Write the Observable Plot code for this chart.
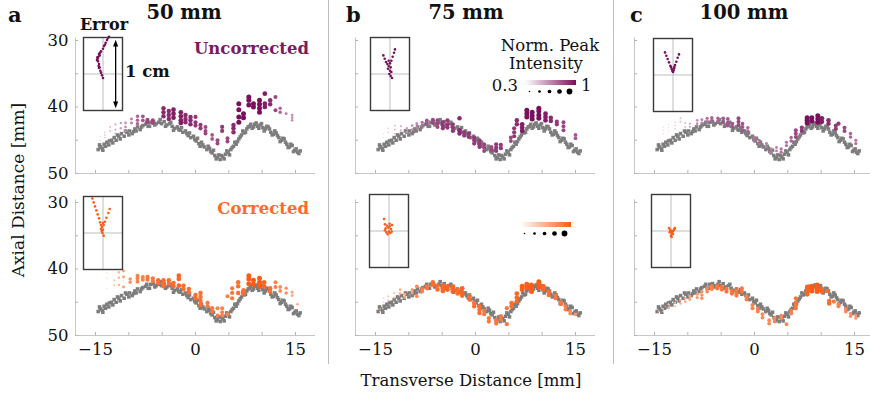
<!DOCTYPE html>
<html>
<head>
<meta charset="utf-8">
<script src="https://cdn.jsdelivr.net/npm/d3@7"></script>
<script src="https://cdn.jsdelivr.net/npm/@observablehq/plot@0.6"></script>
<style>
  body { margin:0; background:#fff; overflow:hidden; }
  #root { position:relative; width:870px; height:400px; overflow:hidden; font-family:"DejaVu Serif", serif; color:#111; }
  .t { position:absolute; white-space:nowrap; line-height:1; }
  .sep { position:absolute; width:1px; background:#bdbdbd; }
</style>
</head>
<body>
<div id="root"></div>
<script>
// ---------------- data ----------------
const xTicks = [-15, -10, -5, 0, 5, 10, 15];
const xTickLabels = [-15, 0, 15];
const yTicks = [30, 35, 40, 45, 50];
const yTickLabels = [30, 40, 50];
const legendLevels = [0.3, 0.475, 0.65, 0.825, 1];

// ground-truth wire positions [transverse mm, axial mm], two frames
const truthA = [
  [-14.6,46.4],[-14.3,46.0],[-14.0,46.2],[-13.7,45.6],[-13.3,45.3],[-13.0,45.7],[-12.6,45.0],[-12.2,44.6],
  [-11.9,45.0],[-11.5,44.4],[-11.1,44.0],[-10.7,44.4],[-10.3,43.8],[-9.9,43.6],[-9.5,44.0],[-9.1,43.3],
  [-8.7,43.0],[-8.3,43.4],[-7.9,42.8],[-7.5,42.6],[-7.1,42.9],[-6.7,42.3],[-6.3,42.2],[-5.9,42.5],
  [-5.5,42.3],[-5.1,42.5],[-4.7,42.2],[-4.3,42.7],[-3.9,42.5],[-3.5,42.9],[-3.1,43.2],[-2.7,43.0],
  [-2.3,43.5],[-1.9,43.8],[-1.5,43.6],[-1.1,44.3],[-0.7,44.6],[-0.3,44.4],[0.1,45.1],[0.5,45.5],
  [0.9,45.3],[1.3,46.0],[1.7,46.4],[2.1,46.2],[2.5,46.9],[2.9,47.3],[3.3,47.6],[3.7,47.9],
  [4.1,47.5],[4.5,47.1],[4.9,46.8],[5.3,46.4],[5.7,45.9],[6.1,45.6],[6.5,44.8],[6.9,44.2],
  [7.3,43.9],[7.7,43.3],[8.1,42.9],[8.5,43.2],[8.9,42.6],[9.3,42.9],[9.7,42.7],[10.1,43.1],
  [10.5,43.3],[10.9,43.0],[11.3,43.8],[11.7,44.1],[12.1,43.9],[12.5,44.6],[12.9,45.0],[13.3,44.8],
  [13.7,45.6],[14.1,46.0],[14.5,45.8],[14.9,46.5],[15.3,46.8],[15.7,46.6]
];
const truthB = [
  [-14.4,45.7],[-13.9,46.5],[-13.5,45.9],[-12.9,45.1],[-12.4,45.4],[-11.7,44.2],[-11.3,44.8],[-10.5,43.6],
  [-10.0,44.2],[-9.3,43.7],[-8.9,43.6],[-8.1,43.0],[-7.3,42.3],[-6.9,42.9],[-6.1,42.7],[-5.3,41.9],
  [-4.5,42.9],[-3.7,42.3],[-3.3,43.5],[-2.5,43.4],[-2.1,43.1],[-1.3,44.0],[-0.9,43.9],[-0.1,44.9],
  [0.3,44.7],[0.7,45.9],[1.1,45.7],[1.9,45.9],[2.3,46.7],[2.7,46.5],[3.1,47.8],[3.5,47.2],
  [3.9,47.3],[4.3,47.8],[4.7,46.6],[5.1,47.2],[5.5,46.1],[5.9,45.3],[6.3,45.2],[6.7,44.5],
  [7.1,43.6],[7.5,43.8],[7.9,43.0],[8.3,42.6],[8.7,43.0],[9.1,42.4],[9.5,43.2],[9.9,42.5],
  [10.3,43.6],[10.7,42.9],[11.1,43.3],[11.5,44.2],[11.9,43.6],[12.3,44.3],[12.7,45.2],[13.1,44.7],
  [13.5,45.3],[13.9,46.1],[14.3,45.6],[14.7,46.7],[15.1,46.3],[15.5,47.0]
];

// estimates: [transverse mm, normalised peak intensity, [axial mm ...]]
const est50U = [
  [-14.3,0.3,[45.0,44.5]],[-13.6,0.35,[44.2,43.8,44.6]],[-12.8,0.4,[43.6,43.0]],[-12.0,0.45,[42.6,43.4,44.0]],
  [-11.2,0.5,[42.4,43.2]],[-10.5,0.55,[42.4,43.0,43.6]],[-9.6,0.6,[41.8,42.4]],[-8.7,0.7,[41.4,42.0,42.5]],
  [-7.9,0.75,[41.4,42.0]],[-7.2,0.8,[41.9,42.3]],[-6.4,0.8,[42.0,42.4]],[-4.8,0.9,[40.2,40.8,41.4]],
  [-4.0,0.9,[40.6,41.2,41.8]],[-3.3,0.95,[40.4,41.0,41.6]],[-2.2,0.95,[40.8,41.4,42.0,42.4]],[-1.5,0.9,[41.2,41.8,42.3]],
  [-0.75,0.9,[41.5,42.0,42.6]],[0.0,0.85,[41.5,42.3,42.8]],[0.75,0.85,[42.7,43.2]],[1.5,0.8,[43.0,43.6,44.0]],
  [2.5,0.75,[44.2,44.8]],[3.3,0.8,[45.0,45.5]],[4.0,0.85,[43.0,43.6]],[4.8,0.8,[44.7,45.2]],
  [5.7,0.9,[42.7,43.2,43.8]],[6.5,1.0,[39.5,40.4,41.5,42.3]],[7.2,1.0,[41.0,41.6]],[8.0,1.0,[38.5,39.0,39.7]],
  [8.7,1.0,[39.5,40.0]],[9.6,1.0,[39.0,39.6,40.2,40.8]],[10.4,0.95,[38.0,39.5,40.0]],[11.2,0.9,[39.0,39.6]],
  [12.0,0.8,[38.5,40.5]],[12.7,0.7,[40.2,40.8]],[13.6,0.6,[41.0]],[14.5,0.55,[41.2,41.6,42.0]]
];
const est50C = [
  [-13.3,0.3,[40.6,41.4,42.9]],[-12.2,0.4,[41.7,42.4]],[-11.5,0.5,[40.5,41.3,42.4]],[-10.8,0.6,[40.3,41.2,42.7]],
  [-9.8,0.7,[41.5,42.0]],[-8.7,0.8,[41.0,41.4,41.9]],[-7.9,0.8,[41.2,41.6]],[-7.2,0.85,[41.2,41.6]],
  [-6.4,0.85,[41.4,41.8]],[-5.6,0.9,[41.7,42.1]],[-4.8,0.9,[41.7,42.2,42.6]],[-4.0,0.9,[41.7,42.2]],
  [-3.3,0.9,[42.1,42.6]],[-2.5,0.95,[41.0,41.5,42.5]],[-1.8,0.9,[42.5,43.0]],[-1.0,0.9,[43.0,43.5]],
  [0.0,0.9,[43.9,44.4]],[0.75,0.9,[43.6,44.2,44.8,45.4]],[1.8,0.85,[45.1,45.6]],[2.5,0.85,[45.9,46.4]],
  [3.3,0.8,[45.9,47.0]],[4.0,0.8,[45.9,46.5,47.0]],[4.8,0.8,[44.1,46.8]],[5.5,0.85,[42.9,43.6,44.4]],
  [6.4,0.9,[42.0,42.6,43.6]],[7.2,0.9,[43.2,43.7]],[8.0,1.0,[41.0,41.5,42.2]],[8.7,1.0,[41.7,42.3]],
  [9.6,1.0,[41.4,42.0,42.6]],[10.3,0.95,[42.0,42.6]],[11.2,0.9,[42.9,43.4]],[12.0,0.8,[42.0,42.7]],
  [12.7,0.75,[42.7,43.3]],[13.6,0.7,[42.9,43.6]],[14.5,0.6,[43.5,44.0]],[15.3,0.55,[45.3]]
];
const est75U = [
  [-13.8,0.3,[44.0,44.6]],[-13.1,0.35,[43.2,43.8]],[-12.1,0.4,[42.8,43.4,44.0]],[-11.2,0.45,[42.9,43.5]],
  [-10.3,0.5,[43.2,43.8]],[-9.5,0.55,[42.8,43.4]],[-8.8,0.6,[42.5,43.1]],[-8.0,0.65,[42.3,42.8]],
  [-7.3,0.75,[42.0,42.5]],[-6.4,0.8,[41.9,42.4]],[-5.7,0.8,[42.0,42.5,43.0]],[-4.9,0.85,[42.3,42.8,43.2]],
  [-4.2,0.85,[42.0,42.6,43.1]],[-3.4,0.85,[42.6,43.1,43.6]],[-2.4,0.9,[41.7,43.5,44.0]],[-1.7,0.85,[43.8,44.3]],
  [-1.0,0.85,[44.0,44.5]],[-0.2,0.85,[44.6,45.0,45.5]],[0.6,0.85,[45.0,45.5,46.0]],[1.3,0.8,[45.6,46.1,46.6]],
  [2.4,0.8,[46.0,46.5]],[3.1,0.85,[45.6,46.1,46.6]],[3.8,0.85,[45.7,46.2]],[5.3,0.8,[44.6,45.1]],
  [5.8,0.85,[43.2,43.8,44.4]],[6.2,0.9,[42.0,42.6]],[7.0,0.95,[42.6,43.1,43.6]],[7.7,1.0,[40.5,41.0,41.5]],
  [8.5,1.0,[40.8,41.3,41.8]],[9.5,1.0,[40.2,40.6,41.2,41.7]],[10.5,0.95,[41.0,41.5,42.0]],[11.3,0.9,[41.6,42.1]],
  [12.2,0.85,[42.2,42.6]],[13.2,0.8,[42.3,42.9,43.5]],[15.0,0.75,[44.2,44.7]]
];
const est75C = [
  [-14.3,0.3,[46.0,46.4]],[-13.8,0.35,[44.4,45.0]],[-13.1,0.4,[44.1,44.7]],[-12.2,0.45,[43.6,44.3]],
  [-11.3,0.55,[43.1,43.7]],[-10.6,0.6,[43.8,44.3]],[-9.5,0.65,[43.1,43.6]],[-8.8,0.75,[42.6,44.1]],
  [-8.0,0.8,[43.0,43.4]],[-7.3,0.85,[42.6,42.9]],[-6.4,0.9,[42.0,42.4]],[-5.7,0.9,[42.5,43.1]],
  [-4.9,0.95,[42.5,42.9,43.3]],[-4.2,0.95,[42.6,43.1]],[-3.4,0.95,[42.6,43.0,43.4]],[-2.7,0.9,[43.2,43.7]],
  [-2.0,0.95,[42.9,43.5,44.0]],[-0.9,0.9,[44.1,44.6]],[-0.2,0.9,[45.1,45.6]],[0.6,0.9,[45.6,46.1,46.6]],
  [1.3,0.85,[46.3,46.8]],[2.0,0.85,[47.4,47.9]],[3.1,0.85,[47.7,48.2]],[3.8,0.85,[47.1,47.6]],
  [4.7,0.85,[45.9,48.3]],[5.4,0.9,[45.1,45.6]],[6.2,0.95,[43.7,44.3,44.9]],[7.0,1.0,[42.6,43.1]],
  [7.7,1.0,[42.3,42.8]],[8.4,1.0,[42.4,42.9,43.4]],[9.5,1.0,[41.9,42.2,42.7]],[10.2,0.95,[42.6,43.1]],
  [11.0,0.9,[43.4,43.9]],[12.0,0.85,[44.0,44.4]],[12.8,0.85,[45.0,45.3]],[13.5,0.8,[45.6,46.1]],
  [14.2,0.75,[46.3,46.7]],[15.0,0.7,[46.8]]
];
const est100U = [
  [-13.7,0.3,[43.0,43.5,44.0]],[-12.9,0.3,[42.6,43.1,43.6]],[-11.9,0.35,[42.3,42.8,43.3]],[-11.1,0.4,[41.7,42.2]],
  [-10.4,0.4,[42.4,43.0]],[-9.7,0.45,[42.5,43.0]],[-8.6,0.55,[42.0,42.5]],[-7.9,0.6,[41.9,42.4]],
  [-7.1,0.65,[41.7,42.2]],[-6.4,0.7,[41.6,42.0]],[-5.5,0.7,[41.7,42.2]],[-4.7,0.75,[41.7,42.3]],
  [-4.0,0.75,[41.8,42.3,42.8]],[-3.3,0.75,[42.5,43.0]],[-2.4,0.8,[41.7,42.2,42.7]],[-1.8,0.75,[42.5,43.0,43.5]],
  [-1.0,0.7,[43.1,43.6]],[0.0,0.65,[44.6,45.1]],[0.7,0.65,[45.0,45.5]],[1.8,0.6,[45.5,46.0]],
  [2.5,0.6,[46.3,46.8]],[3.3,0.6,[46.1,46.6]],[4.0,0.65,[46.3,46.8]],[4.8,0.65,[45.3,45.8]],
  [5.5,0.7,[44.6,45.1]],[6.2,0.8,[43.5,44.0,44.5]],[7.1,0.85,[43.1,43.6]],[7.9,1.0,[41.6,42.0,42.4]],
  [8.6,1.0,[41.6,42.1]],[9.5,1.0,[41.3,41.8,42.3]],[10.1,0.95,[41.7,42.2]],[11.1,0.9,[42.0,42.5]],
  [12.2,0.85,[42.8,43.3]],[12.6,0.85,[42.5]],[13.5,0.8,[43.1,43.6]],[14.4,0.7,[44.0,44.5]],[15.2,0.65,[45.0,45.5]]
];
const est100C = [
  [-14.4,0.3,[46.3,46.7]],[-13.7,0.35,[46.0,46.4]],[-12.9,0.4,[45.3,45.8]],[-11.9,0.45,[45.1,45.6]],
  [-11.1,0.5,[44.7,45.2]],[-10.4,0.55,[44.4,44.9]],[-9.7,0.6,[44.1,44.6]],[-8.6,0.65,[43.8,44.3]],
  [-7.9,0.7,[43.4,43.9,44.4]],[-7.1,0.75,[42.9,43.4]],[-6.4,0.8,[42.6,43.0]],[-5.6,0.85,[42.5,42.9]],
  [-4.9,0.85,[42.7,43.1]],[-4.2,0.85,[43.0,43.4]],[-3.4,0.85,[43.3,43.7]],[-2.7,0.85,[43.2,43.6,44.0]],
  [-1.9,0.85,[42.9,43.4]],[-1.2,0.8,[44.1,44.6]],[-0.3,0.8,[45.4,45.9]],[0.5,0.8,[46.0,46.4]],
  [1.2,0.75,[46.8,47.3]],[2.2,0.75,[47.7,48.2]],[3.0,0.75,[47.4,47.9]],[4.0,0.75,[47.0,47.4]],
  [4.8,0.75,[48.3]],[5.5,0.8,[46.3,46.7]],[6.2,0.85,[44.4,45.0,45.5,45.9]],[7.9,0.95,[42.7,43.1,43.5,43.8]],
  [8.6,1.0,[42.6,42.9,43.3]],[9.4,1.0,[42.4,42.9,43.4]],[10.1,0.95,[43.0,43.4]],[10.9,0.9,[43.3]],
  [11.2,0.9,[44.8,45.2]],[11.9,0.85,[44.9]],[12.6,0.8,[45.3,45.6]],[13.7,0.75,[46.0,46.4]],
  [14.4,0.7,[46.7,47.1]],[15.2,0.65,[47.0,47.4]]
];

// localisation error insets: [transverse error mm, axial error mm]
const err50U = [[0.75,-5.4],[0.9,-5.6],[0.6,-5.1],[0.4,-4.7],[0.15,-4.2],[0,-3.8],[-0.3,-3.4],[-0.5,-2.8],[-0.6,-3.0],
  [-0.7,-2.6],[-0.8,-2.3],[-0.9,-2.1],[-0.75,-1.9],[-0.6,-1.5],[-0.65,-1.2],[-0.6,-0.9],[-0.4,-0.5],[-0.3,-0.2],[-0.15,0.2],[0,0.6],
  [-0.45,-3.2],[-0.85,-2.5],[-0.5,-1.0],[0.3,-4.4]];
const err50C = [[-1.6,-5.2],[-1.4,-4.6],[-1.2,-4.0],[-1.0,-3.4],[-0.8,-2.8],[-0.6,-2.2],[-0.45,-1.6],[1.0,-3.6],[0.8,-3.0],
  [0.5,-2.3],[0.3,-1.7],[0.1,-1.2],[-0.15,-0.9],[-0.3,-0.6],[-0.2,-0.3],[0,-0.5],[-0.1,0],[0.1,0.4],[-0.3,-1.2],[0,-1.5]];
const err75U = [[-1.0,-2.8],[0.75,-3.7],[0.6,-3.2],[0.4,-2.6],[-0.8,-2.3],[-0.6,-1.8],[-0.4,-1.5],[0.2,-2.0],[-0.2,-1.2],
  [0.1,-1.0],[-0.3,-0.8],[0,-0.5],[0.2,-0.3],[-0.1,0],[0.1,0.3],[0.3,0.6],[-0.2,-2.0],[0,-1.6]];
const err75C = [[-0.75,-1.8],[-0.6,-1.0],[-0.5,-0.4],[-0.3,-0.8],[-0.1,-0.5],[0.1,-0.7],[0.3,-0.3],[0.45,-0.9],[-0.4,0.2],
  [-0.2,0.5],[0,0.1],[0.2,0.3],[0.4,0.1],[-0.6,-0.1],[0.1,-1.1]];
const err100U = [[-1.2,-3.4],[-1.0,-2.9],[-0.8,-2.4],[-0.6,-1.9],[-0.4,-1.4],[-0.2,-0.9],[0,-0.45],[0.9,-3.1],[0.7,-2.6],
  [0.5,-2.0],[0.3,-1.5],[0.15,-1.0],[-0.1,-0.6],[0.1,-0.7],[-0.3,-1.2],[0.2,-1.2]];
const err100C = [[-0.3,-0.45],[-0.15,-0.2],[0,0],[0.15,0.2],[0.3,0.45],[0.6,-0.45],[0.45,-0.2],[0.15,0.4],[0,0.7],
  [0.1,0.9],[-0.2,0.2],[0.3,0.0],[0.5,-0.3]];

const PURPLE = "#7a0f5c", ORANGE = "#ff5c16";
const purpleRange = ["#f0d2e2", PURPLE];
const orangeRange = ["#ffd5c2", ORANGE];

// ---------------- drawing ----------------
const root = document.getElementById("root");
const FONT = '"DejaVu Serif", serif';
const fmt = d => d < 0 ? "\u2212" + Math.abs(d) : String(d);
const flat = cols => cols.flatMap(([x, i, ys]) => ys.map(y => ({x, y, i})));
const truth = truthA.concat(truthB);
const rScale = {type: "linear", domain: [0.3, 1], range: [0.7, 2.5]};

function place(el, left, top) {
  el.style.position = "absolute";
  el.style.left = left + "px";
  el.style.top = top + "px";
  root.appendChild(el);
}

function panel(est, {left, top, colors, yLabels, xLabels}) {
  const ml = 34, mr = 6, mt = 8, mb = 30, W = 240, H = 133;
  const marks = [
    Plot.ruleY([50], {x1: -18, x2: 18, stroke: "#c6c6c6"}),
    Plot.ruleX([-18], {y1: 29.6, y2: 50, stroke: "#c6c6c6"}),
    Plot.ruleX(xTicks, {y1: 50, y2: 49.55, stroke: "#b5b5b5"}),
    Plot.ruleY(yTicks, {x1: -18, x2: -17.55, stroke: "#b5b5b5"}),
    Plot.dot(truth, {x: d => d[0], y: d => d[1], symbol: "square", r: 2.0, fill: "#7d7d7d"}),
    Plot.dot(flat(est), {x: "x", y: "y", r: "i", fill: "i"})
  ];
  if (yLabels) marks.push(Plot.text(yTickLabels, {x: -18, y: d => d, text: fmt, dx: -7, textAnchor: "end", fill: "#111"}));
  if (xLabels) marks.push(Plot.text(xTickLabels, {x: d => d, y: 50, text: fmt, dy: 14, fill: "#111"}));
  const svg = Plot.plot({
    width: ml + W + mr, height: mt + H + mb,
    marginLeft: ml, marginRight: mr, marginTop: mt, marginBottom: mb,
    x: {domain: [-18, 18], axis: null},
    y: {domain: [50, 30], axis: null},
    r: rScale,
    color: {type: "linear", domain: [0.3, 1], range: colors},
    style: {fontFamily: FONT, fontSize: "16.5px", background: "transparent", overflow: "visible"},
    marks
  });
  place(svg, left - ml, top - mt);
}

const triUp = {draw(ctx, size) { const r = Math.sqrt(size / Math.PI); ctx.moveTo(0, -1.3 * r); ctx.lineTo(0.85 * r, 0.9 * r); ctx.lineTo(-0.85 * r, 0.9 * r); ctx.closePath(); }};
const triDown = {draw(ctx, size) { const r = Math.sqrt(size / Math.PI); ctx.moveTo(0, 1.3 * r); ctx.lineTo(0.85 * r, -0.9 * r); ctx.lineTo(-0.85 * r, -0.9 * r); ctx.closePath(); }};

function inset(errs, {left, top, color, arrow}) {
  const marks = [
    Plot.frame({fill: "white", stroke: "none"}),
    Plot.ruleX([0], {stroke: "#bdbdbd"}),
    Plot.ruleY([0], {stroke: "#bdbdbd"}),
    Plot.dot(errs, {x: d => d[0], y: d => d[1], r: 1.3, fill: color})
  ];
  if (arrow) {
    marks.push(Plot.ruleX([1.9], {y1: -4.4, y2: 4.4, stroke: "black", strokeWidth: 1.3}));
    marks.push(Plot.dot([-4.55], {x: 1.9, y: d => d, symbol: triUp, r: 3, fill: "black"}));
    marks.push(Plot.dot([4.55], {x: 1.9, y: d => d, symbol: triDown, r: 3, fill: "black"}));
  }
  marks.push(Plot.frame({stroke: "#3a3a3a", strokeWidth: 1.4}));
  const svg = Plot.plot({
    width: 39, height: 73, margin: 0,
    x: {domain: [-2.93, 2.93], axis: null},
    y: {domain: [5.49, -5.49], axis: null},
    style: {background: "transparent", overflow: "visible"},
    marks
  });
  place(svg, left, top);
}

function text(str, x, y, {anchor = "middle", size = 16.5, weight = "normal", color = "#111", rotate = 0} = {}) {
  const d = document.createElement("div");
  d.className = "t";
  d.textContent = str;
  d.style.left = x + "px";
  d.style.top = y + "px";
  d.style.fontSize = size + "px";
  d.style.fontWeight = weight;
  d.style.color = color;
  const tx = anchor === "middle" ? "-50%" : anchor === "end" ? "-100%" : "0";
  d.style.transform = `translate(${tx},-50%)` + (rotate ? ` rotate(${rotate}deg)` : "");
  root.appendChild(d);
}

function sep(x) {
  const d = document.createElement("div");
  d.className = "sep";
  d.style.left = x + "px"; d.style.top = "0px"; d.style.height = "364px";
  root.appendChild(d);
}

// main panels (left = x-axis origin pixel, top = pixel of y=30)
panel(est50U, {left: 75, top: 40, colors: purpleRange, yLabels: true, xLabels: false});
panel(est50C, {left: 75, top: 202, colors: orangeRange, yLabels: true, xLabels: true});
panel(est75U, {left: 355, top: 40, colors: purpleRange, yLabels: false, xLabels: false});
panel(est75C, {left: 355, top: 202, colors: orangeRange, yLabels: false, xLabels: true});
panel(est100U, {left: 634, top: 40, colors: purpleRange, yLabels: false, xLabels: false});
panel(est100C, {left: 634, top: 202, colors: orangeRange, yLabels: false, xLabels: true});

// insets
inset(err50U, {left: 83, top: 37, color: PURPLE, arrow: true});
inset(err50C, {left: 83, top: 196, color: ORANGE});
inset(err75U, {left: 370, top: 37, color: PURPLE});
inset(err75C, {left: 369, top: 194, color: ORANGE});
inset(err100U, {left: 653, top: 38, color: PURPLE});
inset(err100C, {left: 651, top: 194, color: ORANGE});

// separators
sep(328); sep(613);

// titles and labels
text("a", 8, 14, {anchor: "start", size: 21, weight: "bold"});
text("50 mm", 184, 13, {size: 19.5, weight: "bold"});
text("b", 346, 14, {anchor: "start", size: 21, weight: "bold"});
text("75 mm", 466, 13, {size: 19.5, weight: "bold"});
text("c", 630, 14, {anchor: "start", size: 21, weight: "bold"});
text("100 mm", 744, 13, {size: 19.5, weight: "bold"});
text("Error", 104, 25, {size: 16, weight: "bold"});
text("1 cm", 125, 72, {anchor: "start", size: 16.5, weight: "bold"});
text("Uncorrected", 309, 49, {anchor: "end", size: 16.5, weight: "bold", color: "#7a1a62"});
text("Corrected", 309, 209, {anchor: "end", size: 16.5, weight: "bold", color: "#ff6a2c"});
text("Axial Distance [mm]", 18, 190, {size: 17, rotate: -90});
text("Transverse Distance [mm]", 471, 381, {size: 16.5});

// intensity legend
text("Norm. Peak", 550, 46, {size: 16.5});
text("Intensity", 546, 64, {size: 16.5});
text("0.3", 518, 86, {anchor: "end", size: 16.5});
text("1", 581, 86, {anchor: "start", size: 16.5});

function legend(colorEnd, gx, gy, dotTop) {
  const g = document.createElement("div");
  g.style.width = "51px"; g.style.height = "5px";
  g.style.background = `linear-gradient(to right, #ffffff, ${colorEnd})`;
  place(g, gx, gy);
  const svg = Plot.plot({
    width: 48, height: 10, margin: 0, marginLeft: 4, marginRight: 4,
    x: {domain: [0.3, 1], axis: null},
    r: rScale,
    style: {background: "transparent", overflow: "visible"},
    marks: [Plot.dot(legendLevels, {x: d => d, r: d => d * 1.15, fill: "black"})]
  });
  place(svg, gx, dotTop);
}
legend(PURPLE, 525, 80, 86);
legend(ORANGE, 520, 222, 228);
</script>
</body>
</html>
